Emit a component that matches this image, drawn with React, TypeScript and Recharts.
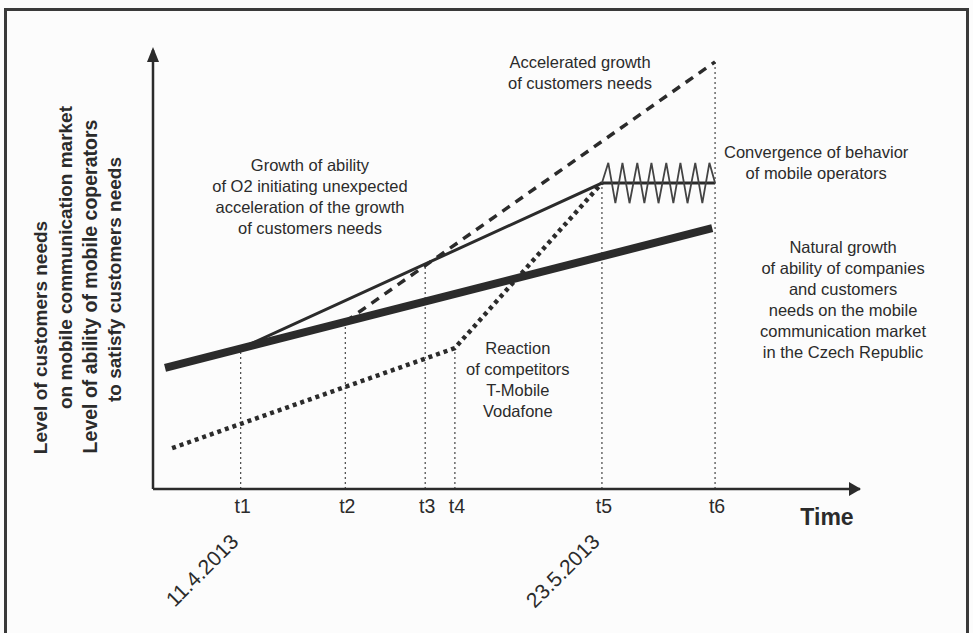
import React from 'react'
import {
  ComposedChart,
  Line,
  XAxis,
  YAxis,
  ReferenceLine,
  ReferenceDot,
} from 'recharts'

// time moments on the horizontal axis (0..100 scale)
const timeKeys = ['t1', 't2', 't3', 't4', 't5', 't6']
const timePoints = [12.4, 27.2, 38.5, 42.7, 63.5, 79.5]
const dateLabels = ['11.4.2013', '', '', '', '23.5.2013', '']
// level where each dotted drop line meets its curve
const dropTops = [32.0, 38.1, 51.3, 32.1, 69.7, 97.3]

const naturalGrowth = [
  { x: 1.7, y: 27.6 },
  { x: 79.1, y: 59.4 },
]
const o2Ability = [
  { x: 12.4, y: 32.0 },
  { x: 63.5, y: 69.7 },
  { x: 79.5, y: 69.7 },
]
const acceleratedNeeds = [
  { x: 27.2, y: 38.1 },
  { x: 79.5, y: 97.3 },
]
const competitors = [
  { x: 2.7, y: 9.3 },
  { x: 42.7, y: 32.1 },
  { x: 63.5, y: 69.7 },
]
const convergence = [
  { x: 63.5, y: 69.7 },
  { x: 64.4, y: 74.3 },
  { x: 65.4, y: 65.1 },
  { x: 66.4, y: 74.3 },
  { x: 67.4, y: 65.1 },
  { x: 68.5, y: 74.3 },
  { x: 69.5, y: 65.1 },
  { x: 70.5, y: 74.3 },
  { x: 71.5, y: 65.1 },
  { x: 72.6, y: 74.3 },
  { x: 73.6, y: 65.1 },
  { x: 74.6, y: 74.3 },
  { x: 75.6, y: 65.1 },
  { x: 76.7, y: 74.3 },
  { x: 77.7, y: 65.1 },
  { x: 78.7, y: 74.3 },
  { x: 79.5, y: 69.7 },
]

const yLabelLines = [
  'Level of customers needs',
  'on mobile communication market',
  'Level of ability of mobile coperators',
  'to satisfy customers needs',
]

const notes = [
  { x: 60.4, y: 95.9, lines: ['Accelerated growth', 'of customers needs'] },
  {
    x: 22.2,
    y: 72.4,
    lines: [
      'Growth of ability',
      'of O2 initiating unexpected',
      'acceleration of the growth',
      'of customers needs',
    ],
  },
  { x: 93.8, y: 75.4, lines: ['Convergence of behavior', 'of mobile operators'] },
  {
    x: 97.6,
    y: 53.8,
    lines: [
      'Natural growth',
      'of ability of companies',
      'and customers',
      'needs on the mobile',
      'communication market',
      'in the Czech Republic',
    ],
  },
  {
    x: 51.6,
    y: 30.8,
    lines: ['Reaction', 'of competitors', 'T-Mobile', 'Vodafone'],
  },
]

const FONT = '"Liberation Sans", Arial, sans-serif'
const INK = '#2b2b2b'

function TimeTick(props: any) {
  const { x, y, payload } = props
  const i = timePoints.indexOf(payload.value)
  const date = dateLabels[i]
  const dx = x - 1
  const dy = y + 46
  return (
    <g>
      <text x={x + 2} y={y + 16} textAnchor="middle" fontSize={19.5} fill={INK} fontFamily={FONT}>
        {timeKeys[i]}
      </text>
      {date && (
        <text
          x={dx}
          y={dy}
          textAnchor="end"
          fontSize={21}
          fill={INK}
          fontFamily={FONT}
          transform={`rotate(-45 ${dx} ${dy})`}
        >
          {date}
        </text>
      )}
    </g>
  )
}

// multi-line rotated y label, anchored on the middle of the y axis
const yLabelShape = (p: any) => {
  const offX = [-106, -81, -56, -32]
  const offY = [68, -12, 17, 10]
  return (
    <g>
      {yLabelLines.map((t, i) => {
        const lx = p.cx + offX[i]
        const ly = p.cy + offY[i]
        return (
          <text
            key={i}
            x={lx}
            y={ly}
            textAnchor="middle"
            fontSize={i === 2 ? 19.5 : 19}
            fontWeight="bold"
            fill={INK}
            fontFamily={FONT}
            transform={`rotate(-90 ${lx} ${ly})`}
          >
            {t}
          </text>
        )
      })}
    </g>
  )
}

function TimeLabel(props: any) {
  const vb = props.viewBox
  return (
    <text
      x={vb.x + vb.width - 33}
      y={vb.y + 36}
      textAnchor="middle"
      fontSize={23}
      fontWeight="bold"
      fill={INK}
      fontFamily={FONT}
    >
      Time
    </text>
  )
}

const upArrow = (p: any) => (
  <polygon
    points={`${p.cx},${p.cy - 3} ${p.cx - 6},${p.cy + 12} ${p.cx + 6},${p.cy + 12}`}
    fill={INK}
  />
)

const rightArrow = (p: any) => (
  <polygon
    points={`${p.cx + 1},${p.cy} ${p.cx - 11},${p.cy - 7} ${p.cx - 11},${p.cy + 7}`}
    fill={INK}
  />
)

const noteShape = (lines: string[]) => (p: any) => (
  <text x={p.cx} y={p.cy} textAnchor="middle" fontSize={16.5} fill={INK} fontFamily={FONT}>
    {lines.map((l, i) => (
      <tspan key={i} x={p.cx} dy={i === 0 ? 0 : 21}>
        {l}
      </tspan>
    ))}
  </text>
)

export default function App() {
  return (
    <div
      style={{
        position: 'absolute',
        left: 0,
        top: 0,
        width: 973,
        height: 633,
        background: '#fcfcfc',
        overflow: 'hidden',
      }}
    >
      <div
        style={{
          position: 'absolute',
          left: 4,
          top: 8,
          width: 965,
          height: 660,
          border: '3px solid #3a3a3a',
          boxSizing: 'border-box',
        }}
      />
      <div style={{ position: 'absolute', left: 0, top: 0 }}>
        <ComposedChart
          width={973}
          height={633}
          margin={{ top: 50, right: 113, bottom: 44, left: 153 }}
        >
          <XAxis
            type="number"
            dataKey="x"
            domain={[0, 100]}
            ticks={timePoints}
            interval={0}
            tickLine={false}
            axisLine={{ stroke: INK, strokeWidth: 2.5 }}
            tick={<TimeTick />}
            height={100}
            allowDataOverflow
            label={{ content: <TimeLabel /> }}
          />
          <YAxis type="number" dataKey="y" domain={[0, 100]} hide allowDataOverflow />
          <ReferenceLine
            segment={[
              { x: 0, y: 0 },
              { x: 0, y: 100 },
            ]}
            stroke={INK}
            strokeWidth={2.5}
            ifOverflow="visible"
          />
          {timePoints.map((t, i) => (
            <ReferenceLine
              key={timeKeys[i]}
              segment={[
                { x: t, y: 0 },
                { x: t, y: dropTops[i] },
              ]}
              stroke="#444"
              strokeWidth={1.2}
              strokeDasharray="2 3"
            />
          ))}
          <Line
            data={competitors}
            dataKey="y"
            type="linear"
            stroke={INK}
            strokeWidth={4.5}
            strokeDasharray="4 4"
            dot={false}
            activeDot={false}
            isAnimationActive={false}
          />
          <Line
            data={acceleratedNeeds}
            dataKey="y"
            type="linear"
            stroke={INK}
            strokeWidth={3.5}
            strokeDasharray="9 7"
            dot={false}
            activeDot={false}
            isAnimationActive={false}
          />
          <Line
            data={o2Ability}
            dataKey="y"
            type="linear"
            stroke={INK}
            strokeWidth={3}
            dot={false}
            activeDot={false}
            isAnimationActive={false}
          />
          <Line
            data={naturalGrowth}
            dataKey="y"
            type="linear"
            stroke={INK}
            strokeWidth={8}
            dot={false}
            activeDot={false}
            isAnimationActive={false}
          />
          <Line
            data={convergence}
            dataKey="y"
            type="linear"
            stroke="#444"
            strokeWidth={1.8}
            dot={false}
            activeDot={false}
            isAnimationActive={false}
          />
          <ReferenceDot x={0} y={100} r={0} ifOverflow="visible" shape={upArrow} />
          <ReferenceDot x={100} y={0} r={0} ifOverflow="visible" shape={rightArrow} />
          <ReferenceDot x={0} y={50} r={0} ifOverflow="visible" shape={yLabelShape} />
          {notes.map((n, i) => (
            <ReferenceDot
              key={i}
              x={n.x}
              y={n.y}
              r={0}
              ifOverflow="visible"
              shape={noteShape(n.lines)}
            />
          ))}
        </ComposedChart>
      </div>
    </div>
  )
}
